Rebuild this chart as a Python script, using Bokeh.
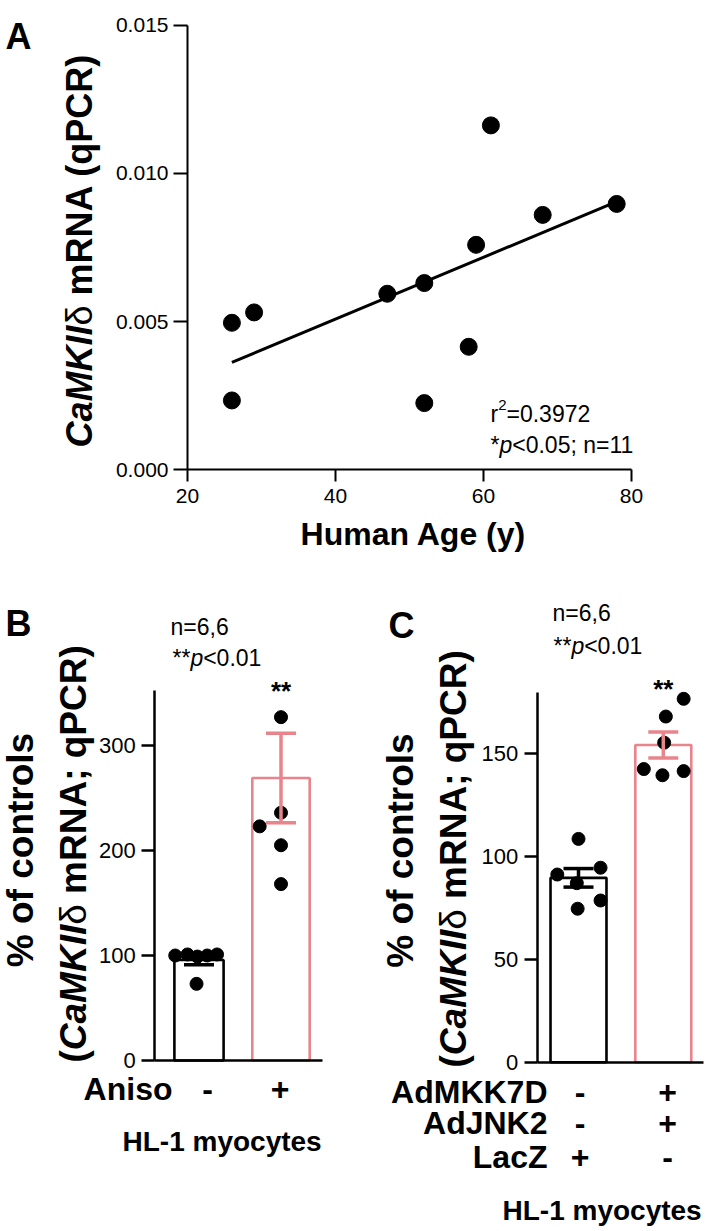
import numpy as np
from math import pi
from bokeh.plotting import figure
from bokeh.layouts import column, row
from bokeh.models import (ColumnDataSource, FixedTicker, PrintfTickFormatter, Label,
                          Whisker, TeeHead, Range1d)
from bokeh.embed import file_html
from bokeh.resources import INLINE

# ---------------- data ----------------
# Panel A: human CaMKIId mRNA vs age
age = [26, 26, 29, 47, 52, 52, 58, 59, 61, 68, 78]
camk_mrna = [0.00496, 0.00234, 0.00531, 0.00594, 0.00630, 0.00225,
             0.00415, 0.00759, 0.01162, 0.00860, 0.00897]
a_xticks = [20, 40, 60, 80]
a_yticks = [0.000, 0.005, 0.010, 0.015]
a_r2 = "0.3972"
a_stat = "<0.05; n=11"

# Panel B: anisomycin in HL-1 myocytes (% of control)
b_groups = ["-", "+"]
b_mean = [95.7, 269.0]
b_sem = [4.5, 42.6]
b_ctrl = [100, 101, 99, 100, 101, 73]
b_ctrl_jit = [-0.29, -0.14, -0.02, 0.10, 0.22, -0.03]
b_aniso = [327, 236, 223, 205, 168]
b_aniso_jit = [0.0, 0.0, -0.26, 0.0, 0.0]
b_yticks = [0, 100, 200, 300]

# Panel C: AdMKK7D + AdJNK2 vs LacZ
c_rows = ["AdMKK7D", "AdJNK2", "LacZ"]
c_signs = [["-", "+"], ["-", "+"], ["+", "-"]]
c_mean = [89.5, 154.0]
c_sem = [4.5, 6.3]
c_lacz = [108.4, 91.1, 94.4, 86.9, 78.5, 74.5]
c_lacz_jit = [0.0, -0.25, 0.26, -0.02, 0.26, -0.01]
c_jnk = [176.4, 167.8, 155.1, 142.3, 139.3, 141.3]
c_jnk_jit = [0.24, 0.03, 0.01, -0.23, -0.01, 0.24]
c_yticks = [0, 50, 100, 150]

stats_text = "<0.01"
n_text = "n=6,6"

# ---------------- styles ----------------
FONT = "Liberation Sans"
BLACK = "#000000"
PINK = "#E8848C"

BOLD_W = {' ': 278, '(': 333, ')': 333, '%': 889, ';': 333, ',': 278, 'A': 722, 'C': 722,
          'I': 278, 'K': 722, 'M': 833, 'N': 722, 'P': 667, 'R': 722, 'a': 556, 'c': 556,
          'e': 556, 'f': 333, 'l': 278, 'm': 889, 'n': 611, 'o': 611, 'q': 611, 'r': 389,
          's': 556, 't': 333}
REG_W = {'δ': 556, '*': 389, 'p': 556, 'r': 333, '2': 556, ' ': 278}


def tw(text, size, bold):
    tab = BOLD_W if bold else REG_W
    return sum(tab.get(ch, 556) for ch in text) / 1000.0 * size


def make_fig(w, h, xmap, ymap, xbounds, ybounds):
    """xmap/ymap = (d0, p0, d1, p1): data value d sits at pixel p (from left / top)."""
    xd0, xp0, xd1, xp1 = xmap
    yd0, yp0, yd1, yp1 = ymap
    sx = (xp1 - xp0) / (xd1 - xd0)
    sy = (yp1 - yp0) / (yd1 - yd0)
    xr = (xd0 - xp0 / sx, xd0 + (w - xp0) / sx)
    yr = (yd0 + (h - yp0) / sy, yd0 - yp0 / sy)
    p = figure(width=w, height=h, output_backend="svg", toolbar_location=None,
               x_range=Range1d(*xr), y_range=Range1d(*yr), title=None,
               min_border_left=0, min_border_right=0, min_border_top=0,
               min_border_bottom=0)
    p.outline_line_color = None
    p.grid.visible = False
    p.background_fill_color = "white"
    p.border_fill_color = "white"
    xa, ya = p.xaxis[0], p.yaxis[0]
    xa.fixed_location = ybounds[0]
    ya.fixed_location = xbounds[0]
    xa.bounds = xbounds
    ya.bounds = ybounds
    for ax in (xa, ya):
        ax.axis_line_color = BLACK
        ax.major_tick_line_color = BLACK
        ax.minor_tick_line_color = None
        ax.major_tick_in = 0
        ax.major_tick_out = 13
        ax.major_label_text_font = FONT
        ax.major_label_text_color = BLACK

    def fx(px):
        return xd0 + (px - xp0) / sx

    def fy(py):
        return yd0 + (py - yp0) / sy
    return p, fx, fy


def lab(p, fx, fy, x, y, text, size, style="normal", align="left",
        baseline="middle", angle=0.0, color=BLACK, xdata=False):
    p.add_layout(Label(x=(x if xdata else fx(x)), y=fy(y), text=text, text_font=FONT,
                       text_font_size=f"{size}px", text_font_style=style,
                       text_align=align, text_baseline=baseline, angle=angle,
                       text_color=color))


def vlabel(p, fx, fy, xc, ystart, pieces, size):
    """Rotated (bottom-to-top) text made of pieces with different styles."""
    y = ystart
    for text, style in pieces:
        bold = "bold" in style
        core = text.lstrip(" ")
        y -= tw(text[:len(text) - len(core)], size, bold)
        lab(p, fx, fy, xc, y, core, size, style=style, align="left",
            baseline="middle", angle=pi / 2)
        y -= tw(core, size, bold)


def hseq(p, fx, fy, x, y, pieces, baseline="alphabetic"):
    """Horizontal text made of pieces (text, style, size, dy)."""
    for text, style, sz, dy in pieces:
        lab(p, fx, fy, x, y + dy, text, sz, style=style, baseline=baseline)
        x += tw(text, sz, "bold" in style)


# ---------------- Panel A ----------------
WA, HA = 710, 590
pA, fxA, fyA = make_fig(WA, HA, (20, 187, 80, 631), (0, 469.3, 0.015, 24.7),
                        (20, 80), (0, 0.015))
pA.xaxis.ticker = FixedTicker(ticks=a_xticks)
pA.yaxis.ticker = FixedTicker(ticks=a_yticks)
pA.yaxis.formatter = PrintfTickFormatter(format="%.3f")
for ax in (pA.xaxis[0], pA.yaxis[0]):
    ax.axis_line_width = 2
    ax.major_tick_line_width = 2
    ax.major_label_text_font_size = "21px"
pA.yaxis.major_tick_out = 14
pA.xaxis.major_tick_out = 12
pA.yaxis.major_label_standoff = 5
pA.xaxis.major_label_standoff = 7

slope, icpt = np.polyfit(age, camk_mrna, 1)
xfit = np.array([min(age), max(age)])
pA.line(xfit, slope * xfit + icpt, line_color=BLACK, line_width=3)
pA.scatter(age, camk_mrna, size=17, color=BLACK)

lab(pA, fxA, fyA, 5, 36, "A", 36, style="bold", baseline="alphabetic")
vlabel(pA, fxA, fyA, 79, 447,
       [("CaMKII", "bold italic"), ("δ", "normal"), (" mRNA (qPCR)", "bold")], 36)
lab(pA, fxA, fyA, 413, 533, "Human Age (y)", 32, style="bold", align="center")
hseq(pA, fxA, fyA, 490, 413,
     [("r", "normal", 23, 0), ("2", "normal", 15, -9), ("=" + a_r2, "normal", 23, 0)])
hseq(pA, fxA, fyA, 490, 444,
     [("*", "normal", 23, 0), ("p", "italic", 23, 0), (a_stat, "normal", 23, 0)])


def bar_panel(p, means, sems, widths, groups_pts, colors):
    xs = [1, 2]
    p.vbar(x=xs, top=means, width=widths, fill_color="white", line_color=colors,
           line_width=2.6)
    for i, (x, m, s, c) in enumerate(zip(xs, means, sems, colors)):
        vals, jit = groups_pts[i]
        p.scatter([x + j for j in jit], vals, size=13, color=BLACK)
        src = ColumnDataSource(dict(x=[x], upper=[m + s], lower=[m - s]))
        w = Whisker(source=src, base="x", upper="upper", lower="lower",
                    line_color=c, line_width=3.5, level="overlay",
                    upper_head=TeeHead(size=30, line_color=c, line_width=3.5),
                    lower_head=TeeHead(size=30, line_color=c, line_width=3.5))
        p.add_layout(w)


def style_bar_axes(p, yticks):
    p.xaxis.ticker = FixedTicker(ticks=[])
    p.xaxis.major_label_text_font_size = "0px"
    p.yaxis.ticker = FixedTicker(ticks=yticks)
    for ax in (p.xaxis[0], p.yaxis[0]):
        ax.axis_line_width = 2.5
        ax.major_tick_line_width = 2.5
    p.yaxis.major_label_text_font_size = "22px"
    p.yaxis.major_label_standoff = 6


# ---------------- Panel B ----------------
WB, HB = 350, 641
pB, fxB, fyB = make_fig(WB, HB, (1, 198.5, 2, 280.5), (0, 470, 100, 365),
                        (0.461, 2.502), (0, 352))
style_bar_axes(pB, b_yticks)
bar_panel(pB, b_mean, b_sem, [0.6, 0.7],
          [(b_ctrl, b_ctrl_jit), (b_aniso, b_aniso_jit)], [BLACK, PINK])

lab(pB, fxB, fyB, 5, 33, "B", 36, style="bold", baseline="alphabetic")
lab(pB, fxB, fyB, 20, 259.5, "% of controls", 37, style="bold", align="center",
    angle=pi / 2)
vlabel(pB, fxB, fyB, 72.5, 472,
       [("(", "bold"), ("CaMKII", "bold italic"), ("δ", "normal"),
        (" mRNA; qPCR)", "bold")], 37)
lab(pB, fxB, fyB, 170, 36, n_text, 23)
hseq(pB, fxB, fyB, 172, 67,
     [("**", "normal", 23, 0), ("p", "italic", 23, 0), (stats_text, "normal", 23, 0)],
     baseline="middle")
lab(pB, fxB, fyB, 2.0, 100, "**", 26, style="bold", align="center", xdata=True)
lab(pB, fxB, fyB, 172, 498, "Aniso", 32, style="bold", align="right")
lab(pB, fxB, fyB, 1.104, 498, b_groups[0], 32, style="bold", align="center", xdata=True)
lab(pB, fxB, fyB, 1.99, 498, b_groups[1], 32, style="bold", align="center", xdata=True)
lab(pB, fxB, fyB, 122, 551, "HL-1 myocytes", 28, style="bold")

# ---------------- Panel C ----------------
WC, HC = 360, 641
pC, fxC, fyC = make_fig(WC, HC, (1, 228, 2, 312.8), (0, 471.7, 100, 265.7),
                        (0.513, 2.474), (0, 179.5))
style_bar_axes(pC, c_yticks)
bar_panel(pC, c_mean, c_sem, [0.66, 0.66],
          [(c_lacz, c_lacz_jit), (c_jnk, c_jnk_jit)], [BLACK, PINK])

lab(pC, fxC, fyC, 38, 35, "C", 36, style="bold", baseline="alphabetic")
lab(pC, fxC, fyC, 50, 260, "% of controls", 37, style="bold", align="center",
    angle=pi / 2)
vlabel(pC, fxC, fyC, 103, 477,
       [("(", "bold"), ("CaMKII", "bold italic"), ("δ", "normal"),
        (" mRNA; qPCR)", "bold")], 37)
lab(pC, fxC, fyC, 202, 22, n_text, 23)
hseq(pC, fxC, fyC, 203, 55,
     [("**", "normal", 23, 0), ("p", "italic", 23, 0), (stats_text, "normal", 23, 0)],
     baseline="middle")
lab(pC, fxC, fyC, 2.0, 98, "**", 26, style="bold", align="center", xdata=True)
row_y = [501.7, 532.7, 566]
for name, signs, yy in zip(c_rows, c_signs, row_y):
    lab(pC, fxC, fyC, 197, yy, name, 32, style="bold", align="right")
    lab(pC, fxC, fyC, 1.02, yy, signs[0], 32, style="bold", align="center", xdata=True)
    lab(pC, fxC, fyC, 2.05, yy, signs[1], 32, style="bold", align="center", xdata=True)
lab(pC, fxC, fyC, 152, 620, "HL-1 myocytes", 28, style="bold")

layout = column(pA, row(pB, pC))
open("out.html", "w").write(file_html(layout, INLINE))
